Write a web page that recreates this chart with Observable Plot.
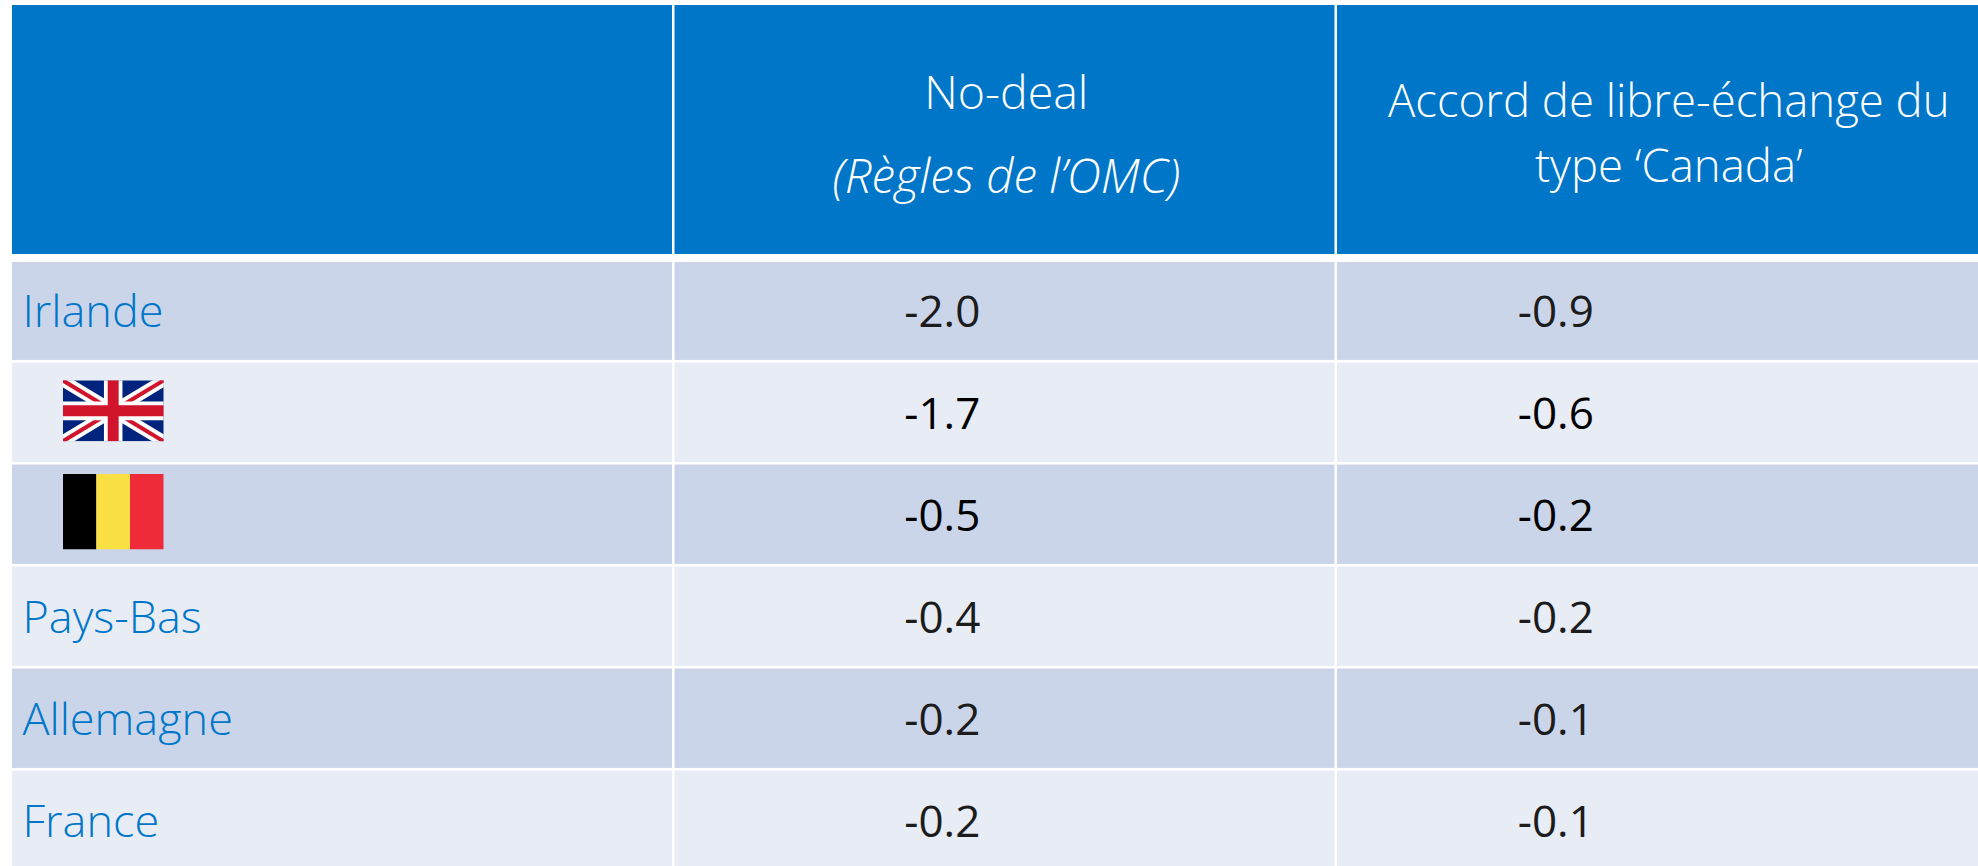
<!DOCTYPE html>
<html><head><meta charset="utf-8">
<script src="https://cdn.jsdelivr.net/npm/d3@7"></script>
<script src="https://cdn.jsdelivr.net/npm/@observablehq/plot@0.6"></script>
<style>html,body{margin:0;padding:0;background:#fff}svg{display:block}</style>
</head><body><div id="chart"></div>
<script>
const countries = ["Irlande","Royaume-Uni","Belgique","Pays-Bas","Allemagne","France"];
const flagged = ["Royaume-Uni","Belgique"];
const noDeal = ["-2.0","-1.7","-0.5","-0.4","-0.2","-0.2"];
const canada = ["-0.9","-0.6","-0.2","-0.2","-0.1","-0.1"];
const headerNoDeal = "No-deal";
const headerWto = "(Règles de l’OMC)";
const headerCanada = ["Accord de libre-échange du","type ‘Canada’"];

const FONT = "'Open Sans'";
const BLUE = "#0076c9";
const colX = [1.4035, 2.3295];          // value column anchor, in column units
const rows = countries.map((name,i)=>({name,i,nd:noDeal[i],ca:canada[i],flag:flagged.includes(name)}));

const ukSvg = `<svg xmlns="http://www.w3.org/2000/svg" viewBox="0 0 60 36" preserveAspectRatio="none"><rect width="60" height="36" fill="#00247d"/><path d="M0 0L60 36M60 0L0 36" stroke="#fff" stroke-width="7"/><path d="M0 0L60 36M60 0L0 36" stroke="#cf142b" stroke-width="2.4"/><path d="M30 0V36M0 18H60" stroke="#fff" stroke-width="11"/><path d="M30 0V36M0 18H60" stroke="#cf142b" stroke-width="6.5"/></svg>`;
const beSvg = `<svg xmlns="http://www.w3.org/2000/svg" viewBox="0 0 3 3" preserveAspectRatio="none"><rect width="1" height="3" fill="#000"/><rect x="1" width="1" height="3" fill="#fae042"/><rect x="2" width="1" height="3" fill="#ef2b3a"/></svg>`;
const uri = s => "data:image/svg+xml;utf8," + encodeURIComponent(s);

const colCells = rows.flatMap(r=>[0,1,2].map(c=>({c,i:r.i})));
const chart = Plot.plot({
  width:1978,height:866,margin:0,
  x:{type:"linear",domain:[0,3],range:[12,1999.5],axis:null},
  y:{type:"linear",domain:[-2.505,5.936],range:[5,866],axis:null},
  style:{background:"#fff",fontFamily:FONT},
  marks:[
    Plot.rect([0,1,2],{x1:d=>d,x2:d=>d+1,y1:()=>-2.505,y2:()=>-0.064,fill:BLUE,insetRight:2.5,clip:true}),
    Plot.rect(colCells,{x1:"c",x2:d=>d.c+1,y1:d=>d.i===0?0.015:d.i,y2:d=>d.i+1,fill:d=>d.i%2?"#e8ecf5":"#cbd5ea",insetRight:2.5,insetBottom:2.6,clip:true}),
    Plot.text([headerNoDeal],{x:()=>1.5,y:()=>-1.632,text:d=>d,fill:"#fff",fontSize:46.5,fontWeight:300,lineAnchor:"middle"}),
    Plot.text([headerWto],{x:()=>1.5,y:()=>-0.815,text:d=>d,fill:"#fff",fontSize:47.5,fontWeight:300,fontStyle:"italic",lineAnchor:"middle"}),
    Plot.text(headerCanada,{x:()=>2.5,y:(d,i)=>[-1.558,-0.92][i],text:d=>d,fill:"#fff",fontSize:45.5,fontWeight:300,lineAnchor:"middle"}),
    Plot.text(rows.filter(r=>!r.flag),{x:()=>0,y:d=>d.i+0.505,text:"name",fill:BLUE,fontSize:45,fontWeight:300,textAnchor:"start",dx:10,lineAnchor:"middle"}),
    Plot.text(rows,{x:()=>colX[0],y:d=>d.i+0.508,text:"nd",fill:d=>d.flag?"#000":"#1c1c1c",fontSize:44,fontWeight:d=>d.flag?400:300,lineAnchor:"middle"}),
    Plot.text(rows,{x:()=>colX[1],y:d=>d.i+0.508,text:"ca",fill:d=>d.flag?"#000":"#1c1c1c",fontSize:44,fontWeight:d=>d.flag?400:300,lineAnchor:"middle"}),
    Plot.image(rows.filter(r=>r.name==="Royaume-Uni"),{x:()=>0.152,y:d=>d.i+0.469,src:()=>uri(ukSvg),width:101,height:61,preserveAspectRatio:"none"}),
    Plot.image(rows.filter(r=>r.name==="Belgique"),{x:()=>0.152,y:d=>d.i+0.456,src:()=>uri(beSvg),width:101,height:76,preserveAspectRatio:"none"})
  ]
});
document.getElementById("chart").appendChild(chart);
</script></body></html>
